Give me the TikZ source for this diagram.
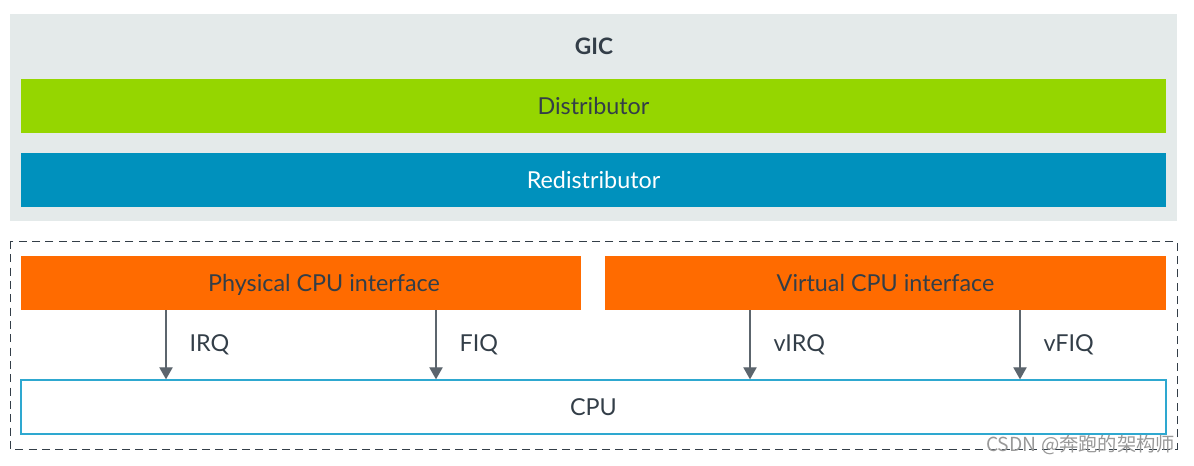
\documentclass[tikz,border=0pt]{standalone}
\usepackage{fontspec}
\setmainfont{Lato}
\newfontfamily\cjk{Noto Sans CJK SC}
\usetikzlibrary{arrows.meta}
\definecolor{gicgrey}{HTML}{E4EAEA}
\definecolor{distgreen}{HTML}{95D600}
\definecolor{redistblue}{HTML}{0091BD}
\definecolor{ifaceorange}{HTML}{FF6B00}
\definecolor{cpuline}{HTML}{2EA8D0}
\definecolor{inkdark}{HTML}{333E48}
\begin{document}
\begin{tikzpicture}[x=0.75pt,y=-0.75pt,
  blk/.style={minimum height=40.5pt, inner sep=0pt, text height=2.8ex, text depth=0.3ex, font=\fontsize{17.5}{20}\selectfont, text=inkdark},
  irq/.style={draw=inkdark!80, line width=0.8pt, -{Triangle[length=9pt,width=10pt]}},
  sig/.style={right, font=\fontsize{17.5}{20}\selectfont, text=inkdark}]
\useasboundingbox (0,0) rectangle (1194,466);
% GIC block
\fill[gicgrey] (10,14) rectangle (1177,221);
\node[font=\fontsize{17}{20}\selectfont\bfseries, text=inkdark] (gic) at (594,46) {GIC};
\node[blk, fill=distgreen, minimum width=858.75pt] (dist) at (593.5,106) {Distributor};
\node[blk, fill=redistblue, text=white, minimum width=858.75pt] (redist) at (593.5,180.5) {Redistributor};
% CPU side
\draw[inkdark, dashed, dash pattern=on 6pt off 4pt] (10,241) rectangle (1177,449);
\node[blk, fill=ifaceorange, minimum width=420pt] (phys) at (301,283) {\hspace*{34.5pt}Physical CPU interface};
\node[blk, fill=ifaceorange, minimum width=420.75pt] (virt) at (885.5,283) {Virtual CPU interface};
\node[blk, draw=cpuline, line width=1pt, fill=white, minimum width=858.75pt] (cpu) at (593.5,407) {CPU};
% signals
\draw[irq] (phys.south -| 166,0) -- (cpu.north -| 166,0) node[sig, midway, xshift=14pt] {IRQ};
\draw[irq] (phys.south -| 436,0) -- (cpu.north -| 436,0) node[sig, midway, xshift=14pt] {FIQ};
\draw[irq] (virt.south -| 750,0) -- (cpu.north -| 750,0) node[sig, midway, xshift=14pt] {vIRQ};
\draw[irq] (virt.south -| 1020,0) -- (cpu.north -| 1020,0) node[sig, midway, xshift=14pt] {vFIQ};
% watermark
\node[anchor=east, font=\cjk\fontsize{14.5}{16}\selectfont, text=gray!80] (mark) at (1180,445) {CSDN @奔跑的架构师};
\end{tikzpicture}
\end{document}
